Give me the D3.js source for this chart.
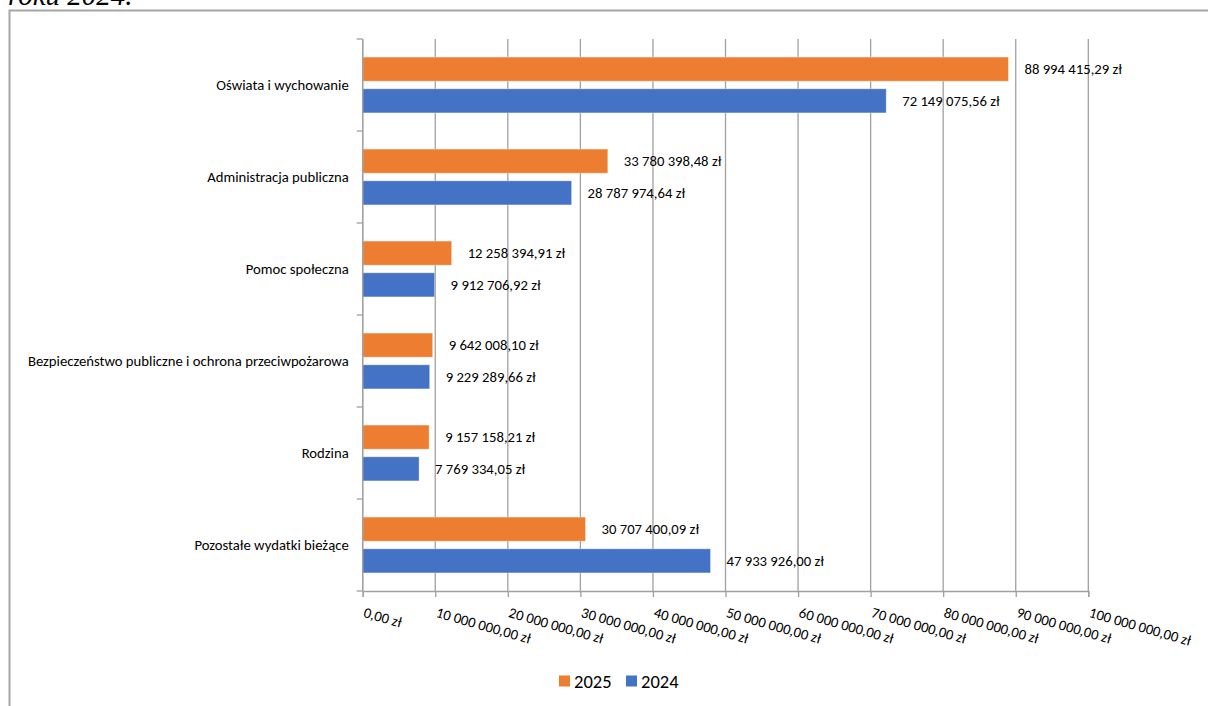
<!DOCTYPE html>
<html>
<head>
<meta charset="utf-8">
<script src="https://cdn.jsdelivr.net/npm/d3@7"></script>
<style>
  html, body { margin: 0; padding: 0; background: #fff; overflow: hidden; }
  svg { display: block; font-family: Carlito, Calibri, Lato, sans-serif; }
</style>
</head>
<body>
<div class="canvas"></div>
<script>
// data
const categories = [
  "Oświata i wychowanie",
  "Administracja publiczna",
  "Pomoc społeczna",
  "Bezpieczeństwo publiczne i ochrona przeciwpożarowa",
  "Rodzina",
  "Pozostałe wydatki bieżące"
];
const series = ["2025", "2024"];
const values2025 = [88994415.29, 33780398.48, 12258394.91, 9642008.10, 9157158.21, 30707400.09];
const values2024 = [72149075.56, 28787974.64, 9912706.92, 9229289.66, 7769334.05, 47933926.00];
const xTickValues = [0, 10000000, 20000000, 30000000, 40000000, 50000000, 60000000, 70000000, 80000000, 90000000, 100000000];
const colors = { "2025": "#ED7D31", "2024": "#4472C4" };

const w = 1208;
const h = 706;
const fontFamily = "Carlito, Calibri, Lato, sans-serif";

// polish number format: "88 994 415,29 zł"
const pl = d3.formatLocale({ decimal: ",", thousands: " ", grouping: [3], currency: ["", " zł"] });
const fmt = d => pl.format(",.2f")(d) + " zł";

const svg = d3.select(".canvas").append("svg").attr("width", w).attr("height", h);

// cut off caption above the chart
svg.append("text")
  .attr("x", 8)
  .attr("y", 5)
  .attr("font-family", "'Liberation Serif', 'Times New Roman', serif")
  .attr("font-style", "italic")
  .attr("font-size", 29)
  .attr("fill", "#000")
  .text("roku 2024.");

// chart frame
svg.append("rect")
  .attr("x", 9.5)
  .attr("y", 10.5)
  .attr("width", 1400)
  .attr("height", 900)
  .attr("fill", "none")
  .attr("stroke", "#a6a6a6")
  .attr("stroke-width", 2);

const margin = { top: 39, left: 362.7 };
const graphWidth = 1088.3 - margin.left;
const graphHeight = 591 - margin.top;

const graph = svg.append("g").attr("transform", `translate(${margin.left}, ${margin.top})`);

// scales
const x = d3.scaleLinear().domain([0, 100000000]).range([0, graphWidth]);
const y0 = d3.scaleBand().domain(categories).range([0, graphHeight]);
const y1 = d3.scaleBand().domain(series).range([0, y0.bandwidth()]).paddingInner(0.24).paddingOuter(0.57);

// vertical gridlines
graph.append("g")
  .selectAll("line")
  .data(xTickValues)
  .enter()
  .append("line")
  .attr("x1", d => x(d))
  .attr("x2", d => x(d))
  .attr("y1", 0)
  .attr("y2", graphHeight)
  .attr("stroke", "#a0a0a0")
  .attr("stroke-width", 1.3);

// bars
const rows = categories.map((c, i) => ({ category: c, values: [
  { key: "2025", value: values2025[i] },
  { key: "2024", value: values2024[i] }
] }));

const groups = graph.selectAll(".cat")
  .data(rows)
  .enter()
  .append("g")
  .attr("class", "cat")
  .attr("transform", d => `translate(0, ${y0(d.category)})`);

groups.selectAll("rect")
  .data(d => d.values)
  .enter()
  .append("rect")
  .attr("x", x(0))
  .attr("y", d => y1(d.key))
  .attr("width", d => x(d.value) - x(0))
  .attr("height", y1.bandwidth())
  .attr("fill", d => colors[d.key])
  .attr("stroke", "rgba(255,255,255,0.35)")
  .attr("stroke-width", 1);

// data labels
groups.selectAll("text")
  .data(d => d.values)
  .enter()
  .append("text")
  .attr("x", d => x(d.value) + 16)
  .attr("y", d => y1(d.key) + y1.bandwidth() / 2)
  .attr("dy", "0.35em")
  .attr("font-size", 14.7)
  .attr("fill", "#000")
  .text(d => fmt(d.value));

// x axis
const xAxis = d3.axisBottom(x).tickValues(xTickValues).tickSize(6).tickFormat(fmt);
const xAxisGroup = graph.append("g").attr("transform", `translate(0, ${graphHeight})`).call(xAxis);
xAxisGroup.attr("font-family", fontFamily);
xAxisGroup.select(".domain").attr("stroke", "#a0a0a0").attr("stroke-width", 1.3);
xAxisGroup.selectAll(".tick line").attr("stroke", "#a0a0a0").attr("stroke-width", 1.3);
xAxisGroup.selectAll(".tick text")
  .attr("text-anchor", "start")
  .attr("font-size", 14.7)
  .attr("fill", "#000")
  .attr("x", 3)
  .attr("y", 0)
  .attr("dy", 0)
  .attr("transform", "translate(0, 13) rotate(16) translate(0, 12.5)");

// y axis (category boundaries)
const yAxisGroup = graph.append("g");
yAxisGroup.append("line")
  .attr("x1", 0).attr("x2", 0)
  .attr("y1", 0).attr("y2", graphHeight)
  .attr("stroke", "#a0a0a0").attr("stroke-width", 1.3);
const boundaries = categories.map(c => y0(c)).concat([graphHeight]);
yAxisGroup.selectAll(".bound")
  .data(boundaries)
  .enter()
  .append("line")
  .attr("x1", -6).attr("x2", 0)
  .attr("y1", d => d).attr("y2", d => d)
  .attr("stroke", "#a0a0a0").attr("stroke-width", 1.3);
yAxisGroup.selectAll(".cat-label")
  .data(categories)
  .enter()
  .append("text")
  .attr("x", -14)
  .attr("y", d => y0(d) + y0.bandwidth() / 2)
  .attr("dy", "0.35em")
  .attr("text-anchor", "end")
  .attr("font-size", 14.7)
  .attr("fill", "#000")
  .text(d => d);

// legend
const legend = svg.append("g").attr("transform", "translate(559, 681)");
const items = legend.selectAll("g")
  .data(series)
  .enter()
  .append("g")
  .attr("transform", (d, i) => `translate(${i * 67}, 0)`);
items.append("rect")
  .attr("x", 0).attr("y", -5.5)
  .attr("width", 11).attr("height", 11)
  .attr("fill", d => colors[d]);
items.append("text")
  .attr("x", 15)
  .attr("dy", "0.36em")
  .attr("font-size", 18.5)
  .attr("fill", "#000")
  .text(d => d);
</script>
</body>
</html>
